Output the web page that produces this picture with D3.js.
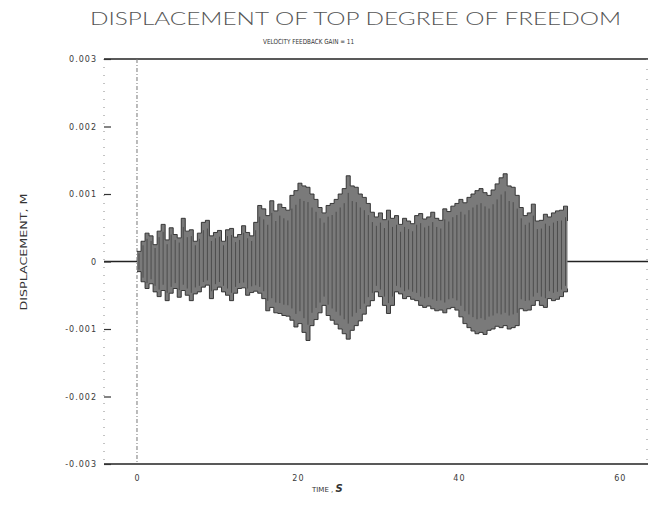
<!DOCTYPE html>
<html>
<head>
<meta charset="utf-8">
<script src="https://cdn.jsdelivr.net/npm/d3@7"></script>
<style>
  body { margin: 0; background: #fff; }
  svg { display: block; }
  .tick text { font-family: "DejaVu Sans", sans-serif; font-size: 8px; fill: #3a3a3a; letter-spacing: 1px; }
</style>
</head>
<body>
<svg id="chart"></svg>
<script>
// time samples (s), every 0.5 s from 0 to 53.5
const times = d3.range(0, 54, 0.5);

// upper / lower extremes of the displacement trace in each half second, in mm
const peakHigh = [
  0.15, 0.30, 0.42, 0.38, 0.25, 0.45, 0.55, 0.32, 0.50, 0.40,
  0.35, 0.64, 0.45, 0.47, 0.30, 0.42, 0.58, 0.61, 0.38, 0.43,
  0.46, 0.30, 0.47, 0.49, 0.36, 0.40, 0.53, 0.43, 0.38, 0.58,
  0.83, 0.78, 0.68, 0.90, 0.75, 0.85, 0.80, 0.76, 0.98, 1.05,
  1.16, 1.12, 1.10, 1.00, 0.92, 0.80, 0.72, 0.83, 0.86, 0.92,
  1.00, 1.08, 1.27, 1.12, 1.10, 1.00, 0.95, 0.86, 0.73, 0.66,
  0.72, 0.62, 0.76, 0.64, 0.68, 0.55, 0.64, 0.60, 0.56, 0.68,
  0.71, 0.63, 0.66, 0.73, 0.64, 0.61, 0.78, 0.74, 0.82, 0.86,
  0.92, 0.87, 0.95, 1.00, 1.05, 1.08, 1.02, 0.98, 1.06, 1.15,
  1.24, 1.30, 1.12, 1.10, 0.98, 0.80, 0.68, 0.72, 0.85, 0.60,
  0.61, 0.70, 0.66, 0.72, 0.75, 0.76, 0.82, 0.60
];
const peakLow = [
  -0.15, -0.30, -0.40, -0.33, -0.45, -0.52, -0.43, -0.58, -0.47, -0.40,
  -0.53, -0.43, -0.50, -0.58, -0.48, -0.45, -0.38, -0.35, -0.55, -0.42,
  -0.38, -0.45, -0.50, -0.58, -0.47, -0.40, -0.39, -0.50, -0.46, -0.44,
  -0.47, -0.55, -0.73, -0.68, -0.76, -0.77, -0.80, -0.81, -0.87, -0.97,
  -0.92, -1.05, -1.17, -0.95, -0.86, -0.76, -0.65, -0.80, -0.87, -0.93,
  -1.00, -1.07, -1.15, -1.02, -0.95, -0.88, -0.78, -0.66, -0.58, -0.45,
  -0.52, -0.65, -0.77, -0.65, -0.45, -0.48, -0.55, -0.52, -0.56, -0.58,
  -0.65, -0.68, -0.66, -0.70, -0.73, -0.72, -0.76, -0.70, -0.68, -0.72,
  -0.82, -0.92, -0.98, -1.03, -1.07, -1.05, -1.08, -1.02, -1.00, -0.96,
  -0.98, -0.95, -1.00, -0.98, -0.95, -0.70, -0.73, -0.72, -0.65, -0.58,
  -0.65, -0.68, -0.55, -0.58, -0.56, -0.52, -0.45, -0.40
];

const yTicks = [-0.003, -0.002, -0.001, 0, 0.001, 0.002, 0.003];
const xTicks = [0, 20, 40, 60];
const MM = 0.001;

const width = 650, height = 514;
const box = { left: 104, right: 648, top: 59, bottom: 464 };

const svg = d3.select('#chart')
    .attr('width', width)
    .attr('height', height);

const x = d3.scaleLinear().domain([-4.1, 63.5]).range([box.left, box.right]);
const y = d3.scaleLinear().domain([-0.003, 0.003]).range([box.bottom, box.top]);

const samples = times.map((t, i) => ({ t: t, hi: peakHigh[i] * MM, lo: peakLow[i] * MM }));

// frame: solid top / bottom, dotted sides
svg.append('line')
    .attr('x1', box.left).attr('x2', box.right)
    .attr('y1', box.top).attr('y2', box.top)
    .attr('stroke', '#222').attr('stroke-width', 1.6);
svg.append('line')
    .attr('x1', box.left).attr('x2', box.right)
    .attr('y1', box.bottom).attr('y2', box.bottom)
    .attr('stroke', '#222').attr('stroke-width', 1.6);
svg.append('line')
    .attr('x1', box.left).attr('x2', box.left)
    .attr('y1', box.top).attr('y2', box.bottom)
    .attr('stroke', '#888').attr('stroke-width', 1)
    .attr('stroke-dasharray', '1,7');
svg.append('line')
    .attr('x1', box.right - 1).attr('x2', box.right - 1)
    .attr('y1', box.top).attr('y2', box.bottom)
    .attr('stroke', '#888').attr('stroke-width', 1)
    .attr('stroke-dasharray', '1,9');

// dash-dot line at t = 0
svg.append('line')
    .attr('x1', x(0)).attr('x2', x(0))
    .attr('y1', box.top).attr('y2', box.bottom)
    .attr('stroke', '#777').attr('stroke-width', 1)
    .attr('stroke-dasharray', '4,2,1,2');

// zero line
svg.append('line')
    .attr('x1', box.left).attr('x2', box.right)
    .attr('y1', y(0)).attr('y2', y(0))
    .attr('stroke', '#222').attr('stroke-width', 1.4);

// axes
const yAxis = d3.axisLeft(y)
    .tickValues(yTicks)
    .tickSize(-7)
    .tickPadding(7)
    .tickFormat(d => d === 0 ? '0' : d.toFixed(3));
const yAxisG = svg.append('g')
    .attr('transform', `translate(${box.left},0)`)
    .call(yAxis);
yAxisG.select('.domain').remove();
yAxisG.selectAll('.tick line').attr('stroke', '#333').attr('stroke-width', 1.2);

const xAxis = d3.axisBottom(x)
    .tickValues(xTicks)
    .tickSize(0)
    .tickPadding(11)
    .tickFormat(d3.format('d'));
const xAxisG = svg.append('g')
    .attr('transform', `translate(0,${box.bottom})`)
    .call(xAxis);
xAxisG.select('.domain').remove();

// trace: grey band between the extremes, darker strokes for each swing
const band = d3.area()
    .x(d => x(d.t))
    .y0(d => y(d.lo))
    .y1(d => y(d.hi))
    .curve(d3.curveStepAfter);
svg.append('path')
    .datum(samples)
    .attr('d', band)
    .attr('fill', '#7a7a7a');

// jagged outline on the band edges
const edgeHi = d3.line().x(d => x(d.t)).y(d => y(d.hi)).curve(d3.curveStepAfter);
const edgeLo = d3.line().x(d => x(d.t)).y(d => y(d.lo)).curve(d3.curveStepAfter);
[edgeHi, edgeLo].forEach(edge => {
    svg.append('path')
        .datum(samples)
        .attr('d', edge)
        .attr('fill', 'none')
        .attr('stroke', '#2a2a2a')
        .attr('stroke-width', 0.9);
});

svg.selectAll('.spike')
    .data(samples.slice(0, -1))
    .join('line')
    .attr('class', 'spike')
    .attr('x1', d => x(d.t) + 2).attr('x2', d => x(d.t) + 2)
    .attr('y1', d => y(d.lo * 0.8)).attr('y2', d => y(d.hi * 0.8))
    .attr('stroke', '#3a3a3a')
    .attr('stroke-width', 0.7);

// titles
svg.append('text')
    .attr('x', 90).attr('y', 25)
    .attr('textLength', 531)
    .attr('lengthAdjust', 'spacingAndGlyphs')
    .style('font-family', 'Lato, "DejaVu Sans", sans-serif')
    .style('font-weight', 300)
    .style('font-size', '18px')
    .style('fill', '#555')
    .text('DISPLACEMENT OF TOP DEGREE OF FREEDOM');

svg.append('text')
    .attr('x', 263).attr('y', 44)
    .attr('textLength', 91)
    .attr('lengthAdjust', 'spacingAndGlyphs')
    .style('font-family', '"DejaVu Sans", sans-serif')
    .style('font-size', '7px')
    .style('fill', '#333')
    .text('VELOCITY FEEDBACK GAIN = 11');

svg.append('text')
    .attr('transform', 'translate(27,252) rotate(-90)')
    .attr('text-anchor', 'middle')
    .attr('textLength', 117)
    .attr('lengthAdjust', 'spacingAndGlyphs')
    .style('font-family', '"DejaVu Sans", sans-serif')
    .style('font-size', '8px')
    .style('fill', '#333')
    .text('DISPLACEMENT, M');

const xLabel = svg.append('text')
    .attr('x', 312).attr('y', 492)
    .style('font-family', '"DejaVu Sans", sans-serif')
    .style('fill', '#333');
xLabel.append('tspan').style('font-size', '7px').text('TIME , ');
xLabel.append('tspan').style('font-size', '10px').style('font-weight', 'bold').style('font-style', 'italic').text('S');
</script>
</body>
</html>
